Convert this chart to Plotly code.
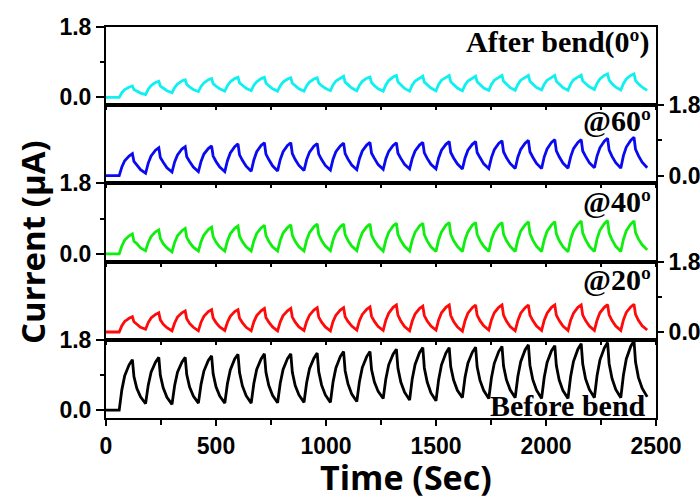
import plotly.graph_objects as go
from plotly.subplots import make_subplots

# ---- data ----
TIME = [0, 60,
        72, 85, 105, 120, 127, 140, 157, 180,
        192, 205, 225, 240, 247, 260, 277, 300,
        312, 325, 345, 360, 367, 380, 397, 420,
        432, 445, 465, 480, 487, 500, 517, 540,
        552, 565, 585, 600, 607, 620, 637, 660,
        672, 685, 705, 720, 727, 740, 757, 780,
        792, 805, 825, 840, 847, 860, 877, 900,
        912, 925, 945, 960, 967, 980, 997, 1020,
        1032, 1045, 1065, 1080, 1087, 1100, 1117, 1140,
        1152, 1165, 1185, 1200, 1207, 1220, 1237, 1260,
        1272, 1285, 1305, 1320, 1327, 1340, 1357, 1380,
        1392, 1405, 1425, 1440, 1447, 1460, 1477, 1500,
        1512, 1525, 1545, 1560, 1567, 1580, 1597, 1620,
        1632, 1645, 1665, 1680, 1687, 1700, 1717, 1740,
        1752, 1765, 1785, 1800, 1807, 1820, 1837, 1860,
        1872, 1885, 1905, 1920, 1927, 1940, 1957, 1980,
        1992, 2005, 2025, 2040, 2047, 2060, 2077, 2100,
        2112, 2125, 2145, 2160, 2167, 2180, 2197, 2220,
        2232, 2245, 2265, 2280, 2287, 2300, 2317, 2340,
        2352, 2365, 2385, 2400, 2407, 2420, 2437, 2460]

AFTER_BEND = [0.0, 0.0,
              0.12, 0.20, 0.26, 0.29, 0.20, 0.16, 0.11, 0.07,
              0.21, 0.30, 0.38, 0.41, 0.29, 0.24, 0.17, 0.12,
              0.25, 0.34, 0.42, 0.45, 0.33, 0.27, 0.20, 0.15,
              0.28, 0.37, 0.45, 0.48, 0.35, 0.29, 0.22, 0.16,
              0.30, 0.40, 0.48, 0.51, 0.37, 0.31, 0.23, 0.17,
              0.31, 0.40, 0.48, 0.51, 0.37, 0.30, 0.22, 0.16,
              0.30, 0.39, 0.47, 0.50, 0.36, 0.30, 0.22, 0.16,
              0.30, 0.39, 0.47, 0.50, 0.37, 0.30, 0.23, 0.17,
              0.32, 0.42, 0.50, 0.54, 0.39, 0.32, 0.24, 0.17,
              0.31, 0.41, 0.49, 0.52, 0.38, 0.30, 0.22, 0.16,
              0.32, 0.43, 0.52, 0.56, 0.40, 0.32, 0.23, 0.16,
              0.31, 0.42, 0.50, 0.54, 0.39, 0.32, 0.24, 0.17,
              0.33, 0.44, 0.52, 0.56, 0.40, 0.33, 0.24, 0.17,
              0.32, 0.42, 0.50, 0.54, 0.40, 0.32, 0.24, 0.18,
              0.33, 0.44, 0.52, 0.56, 0.41, 0.33, 0.25, 0.18,
              0.33, 0.44, 0.52, 0.56, 0.41, 0.34, 0.25, 0.19,
              0.34, 0.44, 0.52, 0.56, 0.41, 0.33, 0.25, 0.18,
              0.34, 0.45, 0.53, 0.57, 0.42, 0.35, 0.27, 0.20,
              0.36, 0.47, 0.56, 0.60, 0.44, 0.35, 0.26, 0.19,
              0.35, 0.47, 0.56, 0.60, 0.43, 0.35, 0.26, 0.18]

BEND_60 = [0.0, 0.0,
           0.22, 0.38, 0.50, 0.56, 0.36, 0.26, 0.15, 0.06,
           0.32, 0.50, 0.65, 0.71, 0.46, 0.34, 0.20, 0.09,
           0.35, 0.53, 0.68, 0.74, 0.48, 0.36, 0.22, 0.10,
           0.36, 0.55, 0.69, 0.76, 0.50, 0.36, 0.22, 0.10,
           0.38, 0.58, 0.74, 0.81, 0.53, 0.39, 0.24, 0.11,
           0.40, 0.61, 0.77, 0.84, 0.55, 0.41, 0.25, 0.12,
           0.41, 0.61, 0.77, 0.84, 0.56, 0.41, 0.26, 0.13,
           0.41, 0.60, 0.75, 0.82, 0.55, 0.41, 0.26, 0.14,
           0.42, 0.61, 0.76, 0.83, 0.56, 0.42, 0.27, 0.15,
           0.43, 0.63, 0.78, 0.85, 0.57, 0.44, 0.28, 0.16,
           0.43, 0.62, 0.77, 0.84, 0.57, 0.44, 0.29, 0.17,
           0.44, 0.63, 0.78, 0.85, 0.58, 0.44, 0.29, 0.17,
           0.45, 0.65, 0.80, 0.87, 0.59, 0.45, 0.30, 0.17,
           0.45, 0.65, 0.80, 0.87, 0.59, 0.46, 0.30, 0.18,
           0.46, 0.66, 0.82, 0.89, 0.61, 0.46, 0.31, 0.18,
           0.47, 0.67, 0.83, 0.90, 0.61, 0.47, 0.31, 0.18,
           0.48, 0.68, 0.85, 0.92, 0.63, 0.48, 0.32, 0.19,
           0.48, 0.69, 0.85, 0.92, 0.63, 0.49, 0.33, 0.20,
           0.50, 0.71, 0.88, 0.95, 0.65, 0.49, 0.33, 0.19,
           0.51, 0.73, 0.90, 0.98, 0.67, 0.51, 0.34, 0.20]

BEND_40 = [0.0, 0.0,
           0.20, 0.35, 0.46, 0.51, 0.32, 0.26, 0.15, 0.08,
           0.29, 0.44, 0.56, 0.61, 0.39, 0.26, 0.15, 0.05,
           0.29, 0.46, 0.59, 0.65, 0.42, 0.29, 0.17, 0.07,
           0.31, 0.48, 0.62, 0.68, 0.44, 0.30, 0.17, 0.07,
           0.33, 0.51, 0.65, 0.71, 0.45, 0.31, 0.18, 0.07,
           0.33, 0.52, 0.66, 0.73, 0.47, 0.32, 0.18, 0.07,
           0.34, 0.53, 0.67, 0.74, 0.47, 0.32, 0.18, 0.07,
           0.35, 0.54, 0.69, 0.76, 0.49, 0.34, 0.20, 0.08,
           0.35, 0.54, 0.69, 0.76, 0.49, 0.34, 0.20, 0.08,
           0.35, 0.54, 0.69, 0.76, 0.48, 0.33, 0.19, 0.07,
           0.35, 0.55, 0.71, 0.78, 0.50, 0.34, 0.19, 0.07,
           0.35, 0.55, 0.71, 0.78, 0.49, 0.33, 0.18, 0.06,
           0.36, 0.56, 0.73, 0.80, 0.50, 0.34, 0.19, 0.06,
           0.36, 0.56, 0.73, 0.80, 0.50, 0.34, 0.19, 0.06,
           0.36, 0.56, 0.73, 0.80, 0.50, 0.34, 0.19, 0.06,
           0.36, 0.58, 0.74, 0.82, 0.52, 0.35, 0.19, 0.06,
           0.36, 0.58, 0.74, 0.82, 0.51, 0.34, 0.18, 0.05,
           0.37, 0.59, 0.76, 0.84, 0.53, 0.36, 0.19, 0.06,
           0.38, 0.60, 0.77, 0.85, 0.53, 0.36, 0.19, 0.06,
           0.37, 0.59, 0.76, 0.84, 0.54, 0.38, 0.23, 0.10]

BEND_20 = [0.0, 0.0,
           0.16, 0.27, 0.35, 0.39, 0.26, 0.19, 0.12, 0.07,
           0.24, 0.36, 0.45, 0.49, 0.31, 0.20, 0.11, 0.03,
           0.23, 0.38, 0.49, 0.54, 0.34, 0.22, 0.12, 0.03,
           0.25, 0.40, 0.52, 0.57, 0.36, 0.24, 0.13, 0.04,
           0.25, 0.40, 0.52, 0.57, 0.35, 0.24, 0.12, 0.03,
           0.26, 0.42, 0.54, 0.60, 0.37, 0.25, 0.13, 0.03,
           0.26, 0.42, 0.54, 0.60, 0.38, 0.25, 0.13, 0.04,
           0.27, 0.43, 0.56, 0.62, 0.38, 0.25, 0.13, 0.03,
           0.27, 0.43, 0.56, 0.62, 0.39, 0.27, 0.15, 0.05,
           0.29, 0.45, 0.58, 0.64, 0.40, 0.27, 0.14, 0.04,
           0.30, 0.48, 0.63, 0.69, 0.43, 0.28, 0.14, 0.03,
           0.28, 0.46, 0.60, 0.66, 0.42, 0.28, 0.15, 0.05,
           0.31, 0.49, 0.63, 0.69, 0.42, 0.27, 0.13, 0.02,
           0.29, 0.48, 0.62, 0.69, 0.43, 0.29, 0.16, 0.05,
           0.31, 0.49, 0.63, 0.69, 0.43, 0.28, 0.14, 0.03,
           0.29, 0.48, 0.62, 0.69, 0.43, 0.29, 0.15, 0.04,
           0.30, 0.48, 0.63, 0.69, 0.43, 0.29, 0.15, 0.04,
           0.30, 0.48, 0.63, 0.69, 0.43, 0.29, 0.15, 0.04,
           0.30, 0.49, 0.63, 0.70, 0.44, 0.29, 0.15, 0.04,
           0.31, 0.50, 0.64, 0.71, 0.45, 0.30, 0.16, 0.05]

BEFORE_BEND = [0.0, 0.0,
               0.52, 0.88, 1.16, 1.29, 0.86, 0.56, 0.34, 0.17,
               0.64, 0.97, 1.23, 1.35, 0.89, 0.57, 0.33, 0.15,
               0.63, 0.97, 1.23, 1.35, 0.91, 0.59, 0.36, 0.18,
               0.66, 1.00, 1.27, 1.39, 0.93, 0.60, 0.36, 0.18,
               0.68, 1.03, 1.31, 1.43, 0.96, 0.62, 0.37, 0.18,
               0.68, 1.04, 1.31, 1.44, 0.97, 0.63, 0.38, 0.19,
               0.69, 1.04, 1.32, 1.44, 0.97, 0.63, 0.39, 0.20,
               0.70, 1.06, 1.33, 1.46, 0.98, 0.64, 0.39, 0.20,
               0.72, 1.08, 1.37, 1.50, 1.01, 0.67, 0.41, 0.22,
               0.73, 1.09, 1.37, 1.50, 1.04, 0.72, 0.48, 0.30,
               0.80, 1.16, 1.43, 1.56, 1.07, 0.72, 0.46, 0.26,
               0.80, 1.17, 1.47, 1.60, 1.08, 0.72, 0.44, 0.24,
               0.78, 1.16, 1.46, 1.60, 1.11, 0.77, 0.51, 0.32,
               0.84, 1.20, 1.48, 1.61, 1.11, 0.76, 0.50, 0.30,
               0.83, 1.20, 1.50, 1.63, 1.13, 0.78, 0.52, 0.32,
               0.86, 1.24, 1.54, 1.67, 1.15, 0.78, 0.51, 0.30,
               0.84, 1.22, 1.52, 1.65, 1.14, 0.77, 0.50, 0.30,
               0.86, 1.25, 1.56, 1.70, 1.18, 0.80, 0.53, 0.32,
               0.88, 1.28, 1.59, 1.73, 1.19, 0.81, 0.53, 0.32,
               0.90, 1.31, 1.63, 1.78, 1.23, 0.84, 0.56, 0.34]

SERIES = [AFTER_BEND, BEND_60, BEND_40, BEND_20, BEFORE_BEND]
LABELS = ["After bend(0º)", "@60º", "@40º", "@20º", "Before bend"]
COLORS = ["#10f0f0", "#0a0af0", "#10ee10", "#ff0a0a", "#000000"]
Y_TICK_VALUES = [0.0, 1.8]
Y_TICK_TEXT = ["0.0", "1.8"]
X_TICK_VALUES = [0, 500, 1000, 1500, 2000, 2500]
X_TITLE = "Time (Sec)"
Y_TITLE = "Current (µA)"

# ---- figure ----
TICK_FONT = dict(family="Liberation Sans, Arial, sans-serif", size=23, color="black", weight="bold")
X_TITLE_FONT = dict(family="Open Sans, DejaVu Sans, sans-serif", size=34, color="black", weight="bold")
Y_TITLE_FONT = dict(family="Open Sans, DejaVu Sans, sans-serif", size=33, color="black", weight="bold")
LABEL_FONT = dict(family="Liberation Serif, Times New Roman, serif", size=30, color="black", weight="bold")

fig = make_subplots(rows=5, cols=1, shared_xaxes=True, vertical_spacing=0)

for i, (ys, color) in enumerate(zip(SERIES, COLORS)):
    row = i + 1
    fig.add_trace(go.Scatter(x=TIME, y=ys, mode="lines",
                             line=dict(color=color, width=2.8),
                             showlegend=False, hoverinfo="skip"),
                  row=row, col=1)
    right = row in (2, 4)
    fig.update_yaxes(range=[-0.2, 1.8], tickmode="array", automargin=False,
                     tickvals=Y_TICK_VALUES, ticktext=Y_TICK_TEXT,
                     side="right" if right else "left", ticks="outside",
                     ticklen=6 if right else 8, tickwidth=2,
                     tickcolor="black",
                     minor=dict(tickmode="array", tickvals=[0.9], ticks="outside",
                                ticklen=4, tickwidth=1.5, tickcolor="black"),
                     showline=True, linewidth=2, linecolor="black", mirror=True,
                     showgrid=False, zeroline=False, tickfont=TICK_FONT,
                     row=row, col=1)
    if row < 5:
        fig.update_xaxes(range=[0, 2500], dtick=250, ticks="outside", ticklen=3,
                         tickwidth=1.5, tickcolor="black", showticklabels=False,
                         automargin=False,
                         showline=True, linewidth=2, linecolor="black", mirror=True,
                         showgrid=False, zeroline=False, row=row, col=1)
    else:
        fig.update_xaxes(range=[0, 2500], tickmode="array", tickvals=X_TICK_VALUES,
                         ticks="outside", ticklen=6, tickwidth=2, tickcolor="black",
                         automargin=False,
                         minor=dict(dtick=250, tick0=0, ticks="outside", ticklen=5,
                                    tickwidth=1.5, tickcolor="black"),
                         showline=True, linewidth=2, linecolor="black", mirror=True,
                         showgrid=False, zeroline=False, tickfont=TICK_FONT,
                         row=row, col=1)

label_pos = [(0.9927, 0.962), (0.9945, 0.762), (0.9945, 0.553), (0.9945, 0.353), (0.985, 0.031)]
for text, (px, py) in zip(LABELS, label_pos):
    fig.add_annotation(text=text, xref="paper", yref="paper", x=px, y=py,
                       xanchor="right", yanchor="middle", showarrow=False,
                       font=LABEL_FONT)

fig.add_annotation(text=X_TITLE, xref="paper", yref="paper", x=0.545, y=-0.152,
                   xanchor="center", yanchor="middle", showarrow=False, font=X_TITLE_FONT)
fig.add_annotation(text=Y_TITLE, xref="paper", yref="paper", x=-0.1345, y=0.45,
                   xanchor="center", yanchor="middle", textangle=-90, showarrow=False,
                   font=Y_TITLE_FONT)

fig.update_layout(width=700, height=498,
                  margin=dict(l=106, r=44, t=27, b=80, autoexpand=False),
                  paper_bgcolor="white", plot_bgcolor="white")

# remove the default 8px page margin so the 700x498 figure fills the window exactly
fig.write_html("out.html", config={"displayModeBar": False},
               post_script="document.body.style.margin='0';")
